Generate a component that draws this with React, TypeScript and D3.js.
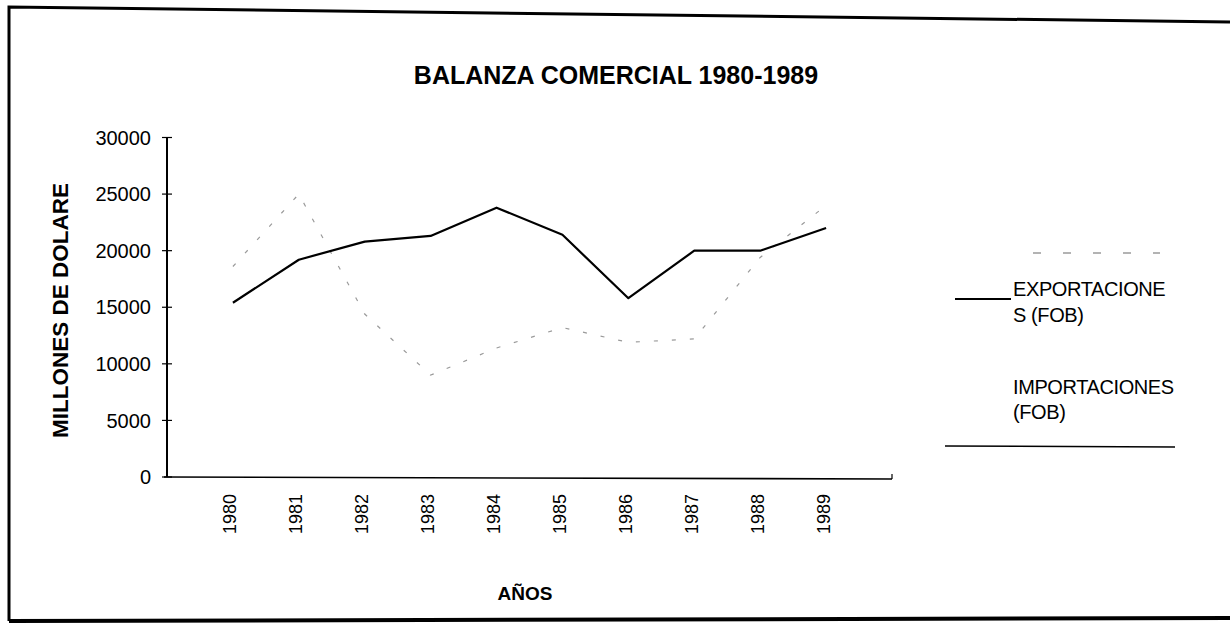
import React from 'react';
import * as d3 from 'd3';

const years = ['1980', '1981', '1982', '1983', '1984', '1985', '1986', '1987', '1988', '1989'];
const exportaciones = [15400, 19200, 20800, 21300, 23800, 21400, 15800, 20000, 20000, 22000];
const importaciones = [18600, 25000, 14400, 9000, 11400, 13200, 11900, 12200, 19400, 24000];
const yTicks = [0, 5000, 10000, 15000, 20000, 25000, 30000];
const legendExp = ['EXPORTACIONE', 'S (FOB)'];
const legendImp = ['IMPORTACIONES', '(FOB)'];

const W = 1230;
const H = 634;
const font = 'Arial, "Liberation Sans", sans-serif';

export default function App() {
  const axisX = 167;
  const axisEnd = 892;
  const step = (axisEnd - axisX) / (years.length + 1);

  const y = d3.scaleLinear().domain([0, 30000]).range([477, 137.5]);
  const x = d3.scalePoint<string>().domain(years).range([axisX + step, axisX + step * years.length]);

  const line = d3.line<number>()
    .x((_, i) => x(years[i]) as number)
    .y(d => y(d));

  return (
    <svg width={W} height={H} style={{ display: 'block', position: 'absolute', left: 0, top: 0, background: '#fff' }}>
      {/* page frame from the scan */}
      <polyline points="9,621 9,7 1230,22" fill="none" stroke="#000" strokeWidth={3} />
      <line x1={9} y1={621} x2={1230} y2={618} stroke="#000" strokeWidth={4} />

      <text x={616} y={84} textAnchor="middle" fontFamily={font} fontWeight="bold" fontSize={25}>
        BALANZA COMERCIAL 1980-1989
      </text>

      {/* y axis */}
      <line x1={axisX} y1={y(30000)} x2={axisX} y2={y(0)} stroke="#000" strokeWidth={2} />
      {yTicks.map(t => (
        <g key={t}>
          <line x1={axisX - 5} x2={axisX + 5} y1={y(t)} y2={y(t)} stroke="#000" strokeWidth={1.2} />
          <text x={151} y={y(t)} dy="0.36em" textAnchor="end" fontFamily={font} fontSize={20}>{t}</text>
        </g>
      ))}

      {/* x axis */}
      <line x1={axisX - 3} y1={y(0)} x2={axisEnd} y2={y(0) + 2} stroke="#000" strokeWidth={1.6} />
      <line x1={axisEnd} y1={y(0) - 3} x2={axisEnd} y2={y(0) + 2} stroke="#000" strokeWidth={1.2} />
      {years.map(yr => (
        <text key={yr}
          transform={`translate(${(x(yr) as number) - 3},494) rotate(-90)`}
          dy="0.36em" textAnchor="end" fontFamily={font} fontSize={18}>{yr}</text>
      ))}

      <text x={525} y={600} textAnchor="middle" fontFamily={font} fontWeight="bold" fontSize={19}>AÑOS</text>

      <defs>
        <clipPath id="ylab-clip">
          <rect x={30} y={182} width={60} height={270} />
        </clipPath>
      </defs>
      <g clipPath="url(#ylab-clip)">
        <text transform="translate(60,438) rotate(-90)" dy="0.36em"
          textAnchor="start" fontFamily={font} fontWeight="bold" fontSize={22.5}>
          MILLONES DE DOLARES
        </text>
      </g>

      {/* series */}
      <path d={line(importaciones) || ''} fill="none" stroke="#9a9a9a" strokeWidth={1.2} strokeDasharray="4,14" />
      <path d={line(exportaciones) || ''} fill="none" stroke="#000" strokeWidth={2.2} strokeLinejoin="round" />

      {/* legend */}
      <line x1={1033} x2={1160} y1={253} y2={253} stroke="#9a9a9a" strokeWidth={1.3} strokeDasharray="8,22" />
      <line x1={955} x2={1011} y1={299} y2={299} stroke="#000" strokeWidth={1.8} />
      {legendExp.map((s, i) => (
        <text key={s} x={1013} y={296 + i * 26} fontFamily={font} fontSize={20} letterSpacing={-0.4}>{s}</text>
      ))}
      {legendImp.map((s, i) => (
        <text key={s} x={1013} y={394 + i * 25} fontFamily={font} fontSize={20} letterSpacing={-0.4}>{s}</text>
      ))}
      <line x1={945} x2={1175} y1={446} y2={447} stroke="#000" strokeWidth={1.6} />
    </svg>
  );
}
